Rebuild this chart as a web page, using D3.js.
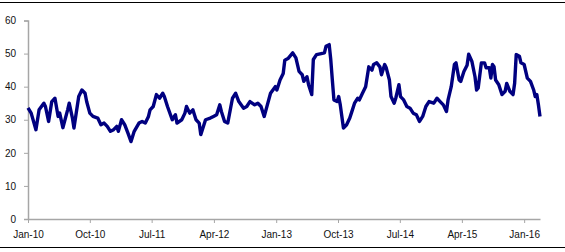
<!DOCTYPE html>
<html>
<head>
<meta charset="utf-8">
<script src="https://cdn.jsdelivr.net/npm/d3@7"></script>
<style>
  body { margin: 0; background: #fff; }
  text { font-family: Arial, "Liberation Sans", sans-serif; }
</style>
</head>
<body>
<svg width="565" height="252"></svg>
<script>
// weeks since 1 Jan 2010 and the value read at that week
const weekIdx = [
  0, 2, 5, 7, 10, 11, 13, 15, 17, 19, 20, 22, 25, 26, 28, 29, 32, 34, 36, 37,
  39, 41, 44, 46, 48, 50, 52, 54, 56, 57, 59, 61, 63, 65, 67, 70, 72, 74, 76, 77,
  79, 81, 83, 85, 86, 88, 91, 93, 94, 97, 99, 100, 102, 104, 106, 108, 109, 110, 112, 115,
  117, 119, 121, 122, 124, 126, 128, 129, 131, 133, 136, 138, 140, 143, 145, 147, 149, 151, 153, 156,
  157, 159, 161, 162, 164, 167, 169, 171, 173, 174, 176, 177, 179, 180, 182, 185, 187, 188, 190, 191,
  192, 193, 195, 196, 197, 198, 199, 201, 203, 204, 206, 208, 209, 211, 213, 215, 217, 218, 220, 222,
  223, 225, 226, 228, 229, 231, 232, 234, 235, 237, 239, 241, 243, 245, 247, 249, 251, 253, 256, 258,
  260, 262, 264, 265, 267, 269, 270, 272, 273, 275, 277, 278, 280, 282, 283, 284, 286, 288, 289, 291,
  292, 293, 294, 295, 297, 299, 301, 302, 304, 306, 307, 308, 310, 311, 313, 315, 317, 319, 320, 321,
  322, 323
];
const values = [
  33.6, 32, 27, 33, 35, 34, 29.5, 35.5, 36.5, 31, 32, 27.6, 33, 35, 30.6, 27.5, 37, 39, 38, 35.5,
  32, 31, 30.5, 28.5, 29, 28, 26.5, 27, 28, 26.5, 30, 28.5, 26, 23.4, 26.5, 29, 29.5, 29, 31, 33,
  34, 37.6, 36.5, 38, 37, 34, 30, 31.5, 29, 30, 32, 34, 32, 33, 30, 29, 25.5, 27, 30, 30.5,
  31, 31.5, 34.5, 32.5, 29.5, 29, 34, 36.5, 38, 35.5, 33.5, 34, 35.5, 34.5, 35, 34, 31, 34.5, 38, 40,
  39, 42, 44, 48, 48.5, 50.2, 48.7, 44.6, 43.6, 41.6, 43, 40.6, 37.6, 48.2, 49.7, 50, 50.2, 52.2, 52.7, 48.2,
  42, 36, 35.5, 37, 34.5, 31, 27.5, 28.5, 30.5, 32, 35, 36.5, 36, 38, 40, 46, 45, 46.7, 47.2, 46,
  43.6, 46.7, 45.7, 42, 37, 35, 36.5, 40.6, 37, 36, 34, 33.5, 32, 31.5, 29.5, 31, 34, 35.5, 35, 36.5,
  35.5, 34.5, 32.5, 36, 40, 46.7, 47.2, 42, 41.6, 44.6, 46.5, 49.8, 47.7, 43, 39, 39.6, 47.2, 47.2, 45.7, 45.7,
  42.6, 46.7, 46, 42, 40.6, 37.6, 38.6, 41, 38.6, 37.6, 41, 49.7, 49.2, 47.2, 46.7, 42.6, 41.6, 39, 37, 37.6,
  34.5, 31
];
const yTicks = [0, 10, 20, 30, 40, 50, 60];
const monthTicks = [0, 9, 18, 27, 36, 45, 54, 63, 72]; // months after Jan-10

const startDate = new Date(2010, 0, 1);

function drawChart() {
  const svgEl  = d3.select("svg");
  const width  = +svgEl.attr("width");

  const data = weekIdx.map((w, i) => ({
    date:  d3.timeDay.offset(startDate, w * 7),
    value: values[i]
  }));

  const x = d3.scaleTime()
    .domain([startDate, data[data.length - 1].date])
    .range([28, 540]);

  const y = d3.scaleLinear()
    .domain([0, 60])
    .range([219, 20.5]);

  // frame lines top and bottom
  svgEl.append("line")
    .attr("x1", 0).attr("x2", width)
    .attr("y1", 2.5).attr("y2", 2.5)
    .attr("stroke", "#000");
  svgEl.append("line")
    .attr("x1", 0).attr("x2", width)
    .attr("y1", 247.5).attr("y2", 247.5)
    .attr("stroke", "#000");

  const yAxis = svgEl.append("g")
    .attr("transform", "translate(28,0)")
    .call(d3.axisLeft(y).tickValues(yTicks).tickSize(4).tickPadding(8));

  const xAxis = svgEl.append("g")
    .attr("transform", "translate(0,219)")
    .call(d3.axisBottom(x)
      .tickValues(monthTicks.map(m => d3.timeMonth.offset(startDate, m)))
      .tickFormat(d3.timeFormat("%b-%y"))
      .tickSize(4)
      .tickSizeOuter(0)
      .tickPadding(8));

  [yAxis, xAxis].forEach(g => {
    g.select(".domain").attr("stroke", "#a6a6a6").attr("stroke-width", 1.5);
    g.selectAll(".tick line").attr("stroke", "#a6a6a6");
    g.selectAll("text")
      .attr("fill", "#111")
      .style("font-size", "10px");
  });

  const line = d3.line()
    .x(d => x(d.date))
    .y(d => y(d.value));

  svgEl.append("path")
    .attr("d", line(data))
    .attr("fill", "none")
    .attr("stroke", "#000080")
    .attr("stroke-width", 3.4)
    .attr("stroke-linejoin", "round");
}

drawChart();
</script>
</body>
</html>
